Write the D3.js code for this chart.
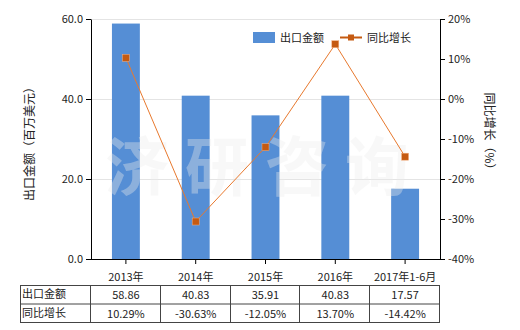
<!DOCTYPE html>
<html lang="zh">
  <head>
    <meta charset="UTF-8" />
    <title>出口金额</title>
    <script src="https://d3js.org/d3.v7.min.js"></script>
    <style>
      body { margin: 0; background: #fff; }
      text { font-family: "Noto Sans CJK SC", "DejaVu Sans", sans-serif; font-size: 11px; fill: #222; }
      .bar { fill: #558ed5; }
    </style>
  </head>
  <body>
    <svg width="520" height="330"></svg>
    <script>
      var categories = ["2013年", "2014年", "2015年", "2016年", "2017年1-6月"];
      var amounts = [58.86, 40.83, 35.91, 40.83, 17.57];
      var growth = [10.29, -30.63, -12.05, 13.7, -14.42];
      var leftTicks = [0, 20, 40, 60];
      var rightTicks = [20, 10, 0, -10, -20, -30, -40];
      var amountLabels = ["58.86", "40.83", "35.91", "40.83", "17.57"];
      var growthLabels = ["10.29%", "-30.63%", "-12.05%", "13.70%", "-14.42%"];

      var svg = d3.select("svg");
      var pL = 91, pR = 440, pT = 19, pB = 259;

      var x = d3.scaleBand().domain(categories).range([pL, pR]).paddingInner(0.6).paddingOuter(0.3);
      var y = d3.scaleLinear().domain([0, 60]).range([pB, pT]);
      var y2 = d3.scaleLinear().domain([-40, 20]).range([pB, pT]);

      // grid lines
      svg.append("g")
        .selectAll("line")
        .data(leftTicks.slice(1))
        .enter()
        .append("line")
        .attr("x1", pL)
        .attr("x2", pR)
        .attr("y1", function (d) { return y(d) + 0.5; })
        .attr("y2", function (d) { return y(d) + 0.5; })
        .attr("stroke", "#e4e4e4");

      // bars
      svg.selectAll(".bar")
        .data(amounts)
        .enter()
        .append("rect")
        .attr("class", "bar")
        .attr("x", function (d, i) { return x(categories[i]); })
        .attr("y", function (d) { return y(d); })
        .attr("width", x.bandwidth())
        .attr("height", function (d) { return pB - y(d); });

      // watermark
      svg.append("text")
        .attr("x", 265)
        .attr("y", 190)
        .attr("text-anchor", "middle")
        .style("font-size", "64px")
        .style("font-weight", "bold")
        .style("fill", "#ffffff")
        .style("opacity", 0.35)
        .style("letter-spacing", "16px")
        .text("济研咨询");
      svg.append("text")
        .attr("x", 265)
        .attr("y", 190)
        .attr("text-anchor", "middle")
        .style("font-size", "64px")
        .style("font-weight", "bold")
        .style("fill", "#000")
        .style("opacity", 0.025)
        .style("letter-spacing", "16px")
        .text("济研咨询");

      // axes
      var axL = svg.append("g")
        .attr("transform", "translate(" + pL + ",0)")
        .call(d3.axisLeft(y).tickValues(leftTicks).tickFormat(d3.format(".1f")).tickSize(5).tickSizeOuter(0));
      var axR = svg.append("g")
        .attr("transform", "translate(" + pR + ",0)")
        .call(d3.axisRight(y2).tickValues(rightTicks).tickFormat(function (d) { return d + "%"; }).tickSize(5).tickSizeOuter(0));
      var axB = svg.append("g")
        .attr("transform", "translate(0," + pB + ")")
        .call(d3.axisBottom(x).tickSize(5).tickSizeOuter(0));
      axB.select(".domain").attr("d", "M" + pL + ",0.5H" + pR);
      [axL, axR, axB].forEach(function (a) {
        a.selectAll("text").style("font-size", "11px").style("fill", "#222");
        a.selectAll("line, path").attr("stroke", "#000");
      });
      axB.selectAll("text").attr("dy", "1.3em");

      // line
      var line = d3.line()
        .x(function (d, i) { return x(categories[i]) + x.bandwidth() / 2; })
        .y(function (d) { return y2(d); });
      svg.append("path")
        .datum(growth)
        .attr("d", line)
        .attr("fill", "none")
        .attr("stroke", "#e8792e")
        .attr("stroke-width", 1);
      svg.selectAll(".pt")
        .data(growth)
        .enter()
        .append("rect")
        .attr("class", "pt")
        .attr("x", function (d, i) { return x(categories[i]) + x.bandwidth() / 2 - 3.5; })
        .attr("y", function (d) { return y2(d) - 3.5; })
        .attr("width", 7)
        .attr("height", 7)
        .attr("fill", "#c55a11")
        .attr("stroke", "#f4b183")
        .attr("stroke-width", 0.5);

      // legend
      svg.append("rect").attr("x", 253).attr("y", 32).attr("width", 22).attr("height", 11).attr("fill", "#558ed5");
      svg.append("text").attr("x", 280).attr("y", 42).text("出口金额");
      svg.append("line").attr("x1", 340).attr("x2", 362).attr("y1", 37.5).attr("y2", 37.5).attr("stroke", "#c55a11").attr("stroke-width", 2);
      svg.append("rect").attr("x", 348).attr("y", 34.5).attr("width", 6).attr("height", 6).attr("fill", "#c55a11");
      svg.append("text").attr("x", 367).attr("y", 42).text("同比增长");

      // axis titles
      svg.append("text")
        .attr("transform", "translate(34,141) rotate(-90)")
        .attr("text-anchor", "middle")
        .style("font-size", "12px")
        .text("出口金额（百万美元）");
      svg.append("text")
        .attr("transform", "translate(485,134) rotate(90)")
        .attr("text-anchor", "middle")
        .style("font-size", "12px")
        .text("同比增长（%）");

      // data table
      var tTop = 285, rowH = 18.5;
      var tbl = svg.append("g");
      var rows = [["出口金额", amountLabels], ["同比增长", growthLabels]];
      rows.forEach(function (r, ri) {
        var yy = tTop + ri * rowH;
        tbl.append("text").attr("x", 22).attr("y", yy + 13).text(r[0]);
        r[1].forEach(function (v, i) {
          tbl.append("text")
            .attr("x", x(categories[i]) + x.bandwidth() / 2)
            .attr("y", yy + 14)
            .attr("text-anchor", "middle")
            .text(v);
        });
      });
      var lineColor = "#444";
      [0, 1, 2].forEach(function (k) {
        tbl.append("line")
          .attr("x1", 20).attr("x2", pR)
          .attr("y1", tTop + k * rowH + 0.5).attr("y2", tTop + k * rowH + 0.5)
          .attr("stroke", lineColor);
      });
      var vx = [20.5, pL - 0.5].concat(categories.map(function (c) { return Math.round(x(c) + x.bandwidth() / 2 + x.step() / 2) - 0.5; }));
      vx.forEach(function (v) {
        tbl.append("line")
          .attr("x1", v).attr("x2", v)
          .attr("y1", tTop).attr("y2", tTop + 2 * rowH + 1)
          .attr("stroke", lineColor);
      });
    </script>
  </body>
</html>
